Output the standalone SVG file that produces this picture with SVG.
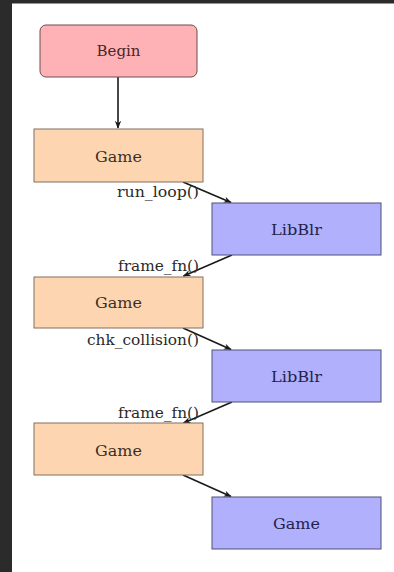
<svg xmlns="http://www.w3.org/2000/svg" width="394" height="572" viewBox="0 0 394 572">
<style>
  text { font-family: "DejaVu Serif", serif; font-size: 15px; text-anchor: middle; }
  .begin rect { fill: #ffb2b6; stroke: #6e4c4c; stroke-width: 1; }
  .begin text { fill: #4a2626; }
  .game rect { fill: #fdd6b1; stroke: #807060; stroke-width: 1; }
  .game text { fill: #3e2e22; }
  .lib rect { fill: #b0b0fd; stroke: #50507a; stroke-width: 1; }
  .lib text { fill: #22224a; }
  .edge { stroke: #1a1a1a; stroke-width: 1.6; fill: none; marker-end: url(#arr); }
  .lbl { fill: #2a2a2a; text-anchor: end; font-size: 15px; }
</style>
<defs>
  <marker id="arr" viewBox="0 0 10 10" refX="9" refY="5" markerWidth="8" markerHeight="8" markerUnits="userSpaceOnUse" orient="auto">
    <path d="M0,1 L10,5 L0,9 L3,5 Z" fill="#1a1a1a"/>
  </marker>
</defs>
<rect x="0" y="0" width="394" height="572" fill="#ffffff"/>
<rect x="0" y="0" width="394" height="3.5" fill="#2b2b2b"/>
<rect x="0" y="0" width="12" height="572" fill="#2b2b2b"/>

<g id="connectors">
  <line class="edge" x1="118" y1="77" x2="118" y2="128"/>
  <line class="edge" x1="183" y1="182" x2="231" y2="202.5"/>
  <line class="edge" x1="232" y1="255" x2="183.5" y2="276"/>
  <line class="edge" x1="183" y1="328" x2="231" y2="349.5"/>
  <line class="edge" x1="232" y1="402" x2="183.5" y2="423"/>
  <line class="edge" x1="183" y1="475" x2="231" y2="496.5"/>
  <text class="lbl" x="199" y="197" textLength="82" lengthAdjust="spacingAndGlyphs">run_loop()</text>
  <text class="lbl" x="199" y="271" textLength="81" lengthAdjust="spacingAndGlyphs">frame_fn()</text>
  <text class="lbl" x="199" y="345" textLength="112" lengthAdjust="spacingAndGlyphs">chk_collision()</text>
  <text class="lbl" x="199" y="418" textLength="81" lengthAdjust="spacingAndGlyphs">frame_fn()</text>
</g>

<g id="begin" class="begin">
  <rect x="40" y="25" width="157" height="52" rx="6"/>
  <text x="118.5" y="56" textLength="44" lengthAdjust="spacingAndGlyphs">Begin</text>
</g>
<g id="game1" class="game">
  <rect x="34" y="129" width="169" height="53"/>
  <text x="118.5" y="162" textLength="47" lengthAdjust="spacingAndGlyphs">Game</text>
</g>
<g id="libblr1" class="lib">
  <rect x="212" y="203" width="169" height="52"/>
  <text x="296.5" y="235" textLength="51" lengthAdjust="spacingAndGlyphs">LibBlr</text>
</g>
<g id="game2" class="game">
  <rect x="34" y="277" width="169" height="51"/>
  <text x="118.5" y="308" textLength="47" lengthAdjust="spacingAndGlyphs">Game</text>
</g>
<g id="libblr2" class="lib">
  <rect x="212" y="350" width="169" height="52"/>
  <text x="296.5" y="382" textLength="51" lengthAdjust="spacingAndGlyphs">LibBlr</text>
</g>
<g id="game3" class="game">
  <rect x="34" y="423" width="169" height="52"/>
  <text x="118.5" y="456" textLength="47" lengthAdjust="spacingAndGlyphs">Game</text>
</g>
<g id="game4" class="lib">
  <rect x="212" y="497" width="169" height="52"/>
  <text x="296.5" y="529" textLength="47" lengthAdjust="spacingAndGlyphs">Game</text>
</g>
</svg>
